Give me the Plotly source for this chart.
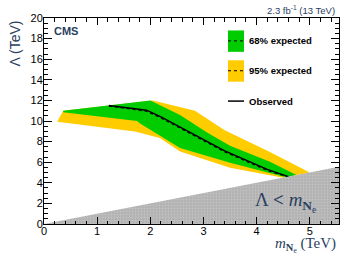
import plotly.graph_objects as go

# ---------------- data (TeV) ----------------
obs_x = [1.22, 1.93, 2.2, 2.6, 3.0, 3.4, 3.8, 4.2, 4.6]
obs_y = [11.5, 11.05, 10.4, 9.3, 8.2, 7.1, 6.2, 5.3, 4.6]

exp_x = [1.22, 1.93, 2.2, 2.6, 3.0, 3.4, 3.8, 4.2, 4.6]
exp_y = [11.45, 10.95, 10.3, 9.2, 8.1, 7.0, 6.1, 5.2, 4.55]

g_up_x = [0.36, 2.0, 2.56, 3.06, 3.5, 4.25, 4.75]
g_up_y = [11.0, 12.0, 10.58, 8.9, 7.6, 6.05, 4.75]
g_lo_x = [0.36, 1.75, 1.8, 2.56, 3.5, 4.55]
g_lo_y = [10.85, 10.0, 9.78, 7.39, 5.94, 4.55]

y_up_x = [0.36, 2.05, 2.84, 3.4, 4.25, 5.0]
y_up_y = [11.0, 12.0, 11.0, 9.1, 7.0, 5.0]
y_lo_x = [0.25, 1.71, 2.18, 2.56, 3.5, 4.5]
y_lo_y = [9.93, 8.97, 8.36, 7.03, 5.46, 4.5]

excl_x = [0.0, 5.55, 5.55, 0.0]
excl_y = [0.0, 5.55, 0.0, 0.0]

GREEN = "#00cc00"
YELLOW = "#ffcc00"

fig = go.Figure()

def band(ux, uy, lx, ly, color):
    fig.add_trace(go.Scatter(
        x=ux + lx[::-1], y=uy + ly[::-1], fill="toself", fillcolor=color,
        line=dict(width=0, color=color), mode="lines", hoverinfo="skip",
        showlegend=False))

band(y_up_x, y_up_y, y_lo_x, y_lo_y, YELLOW)
band(g_up_x, g_up_y, g_lo_x, g_lo_y, GREEN)

fig.add_trace(go.Scatter(x=exp_x, y=exp_y, mode="lines",
                         line=dict(color="black", width=1.2, dash="dot"),
                         showlegend=False))
fig.add_trace(go.Scatter(x=obs_x, y=obs_y, mode="lines",
                         line=dict(color="black", width=1.5),
                         showlegend=False))

fig.add_trace(go.Scatter(x=excl_x, y=excl_y, fill="toself",
                         fillcolor="#b2b2b2",
                         fillpattern=dict(shape=".", bgcolor="#b2b2b2",
                                          fgcolor="#d2d2d2", size=3, solidity=0.3),
                         line=dict(width=0, color="#b2b2b2"), mode="lines",
                         hoverinfo="skip", showlegend=False))

L, R, T, B = 44, 18, 17.5, 33.5
W, H = 357, 258
pw, ph = W - L - R, H - T - B

def px(xp):
    return (xp - L) / pw

def py(yp):
    return (H - B - yp) / ph

tickfont = dict(family="Liberation Sans, Arial", size=11, color="black")
fig.update_xaxes(range=[0, 5.55], dtick=1, tick0=0, ticks="inside", ticklen=7,
                 tickwidth=1, tickcolor="black", showline=True, linecolor="black",
                 linewidth=1, mirror="allticks", showgrid=False, zeroline=False,
                 tickfont=tickfont, ticklabelstandoff=-3,
                 minor=dict(dtick=0.2, ticks="inside", ticklen=3.5,
                            tickcolor="black", showgrid=False))
fig.update_yaxes(range=[0, 20], dtick=2, tick0=0, ticks="inside", ticklen=8,
                 tickwidth=1, tickcolor="black", showline=True, linecolor="black",
                 linewidth=1, mirror="allticks", showgrid=False, zeroline=False,
                 tickfont=tickfont, ticklabelstandoff=-2,
                 minor=dict(dtick=0.5, ticks="inside", ticklen=4,
                            tickcolor="black", showgrid=False))

ann = []
ann.append(dict(text="<b>CMS</b>", x=px(52), y=py(30.5), xanchor="left",
                yanchor="middle", font=dict(family="Liberation Sans, Arial", size=11)))
ann.append(dict(text="2.3 fb<sup>-1</sup> (13 TeV)", x=px(337), y=py(9),
                xanchor="right", yanchor="middle",
                font=dict(family="Liberation Sans, Arial", size=9.5)))
ann.append(dict(text="Λ (TeV)", textangle=-90, x=px(15), y=py(18),
                xanchor="center", yanchor="top",
                font=dict(family="Liberation Sans, Arial", size=14)))
ann.append(dict(text="<i>m</i><sub><b>N</b><sub>e</sub></sub> (TeV)", x=px(338),
                y=py(245.5), xanchor="right", yanchor="middle",
                font=dict(family="Liberation Serif, Times New Roman", size=15)))
ann.append(dict(text="Λ <b><</b> <i>m</i><sub><b>N</b><sub>e</sub></sub>",
                x=px(253), y=py(202), xanchor="left", yanchor="middle",
                font=dict(family="Liberation Serif, Times New Roman", size=19)))

leg_font = dict(family="Liberation Sans, Arial", size=9.5, color="black")
ann.append(dict(text="<b>68% expected</b>", x=px(247), y=py(40.5),
                xanchor="left", yanchor="middle", font=leg_font))
ann.append(dict(text="<b>95% expected</b>", x=px(247), y=py(70.5),
                xanchor="left", yanchor="middle", font=leg_font))
ann.append(dict(text="<b>Observed</b>", x=px(247), y=py(101),
                xanchor="left", yanchor="middle", font=leg_font))
for a in ann:
    a.update(xref="paper", yref="paper", showarrow=False)

shapes = [
    dict(type="rect", x0=px(228), x1=px(244), y0=py(51.5), y1=py(30),
         fillcolor=GREEN, line=dict(width=0)),
    dict(type="rect", x0=px(228), x1=px(244), y0=py(81.5), y1=py(60),
         fillcolor=YELLOW, line=dict(width=0)),
    dict(type="line", x0=px(228), x1=px(244), y0=py(40.5), y1=py(40.5),
         line=dict(color="black", width=1, dash="dot")),
    dict(type="line", x0=px(228), x1=px(244), y0=py(70.5), y1=py(70.5),
         line=dict(color="black", width=1, dash="dot")),
    dict(type="line", x0=px(228), x1=px(244), y0=py(101), y1=py(101),
         line=dict(color="black", width=1.5)),
]
for s in shapes:
    s.update(xref="paper", yref="paper")

fig.update_layout(width=W, height=H, margin=dict(l=L, r=R, t=T, b=B),
                  paper_bgcolor="white", plot_bgcolor="white",
                  annotations=ann, shapes=shapes, showlegend=False)

fig.write_html("out.html", config={"displayModeBar": False},
               post_script="document.body.style.margin='0';"
                           "document.body.style.padding='0';")
